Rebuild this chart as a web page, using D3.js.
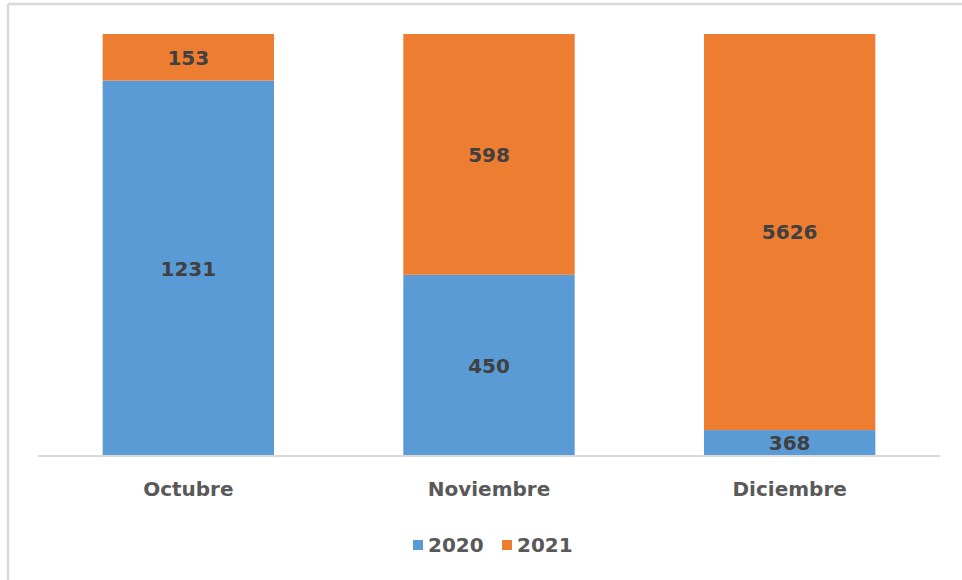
<!DOCTYPE html>
<html>
<head>
<meta charset="utf-8">
<script src="https://cdn.jsdelivr.net/npm/d3@7"></script>
<style>
  html, body { margin: 0; padding: 0; background: #fff; }
  svg { display: block; }
  text { font-family: "DejaVu Sans", "Open Sans", sans-serif; }
</style>
</head>
<body>
<svg id="chart" width="962" height="580"></svg>
<script>
const categories = ["Octubre", "Noviembre", "Diciembre"];
const seriesNames = ["2020", "2021"];
const values2020 = [1231, 450, 368];
const values2021 = [153, 598, 5626];
const colors = ["#5b9bd5", "#ed7d31"];

const svg = d3.select("#chart");
const W = 962, H = 580;

// outer border (top and left only, as in reference)
svg.append("line").attr("x1", 8).attr("x2", W).attr("y1", 4).attr("y2", 4)
  .attr("stroke", "#d9d9d9").attr("stroke-width", 2.5);
svg.append("line").attr("x1", 8).attr("x2", 8).attr("y1", 4).attr("y2", H)
  .attr("stroke", "#d9d9d9").attr("stroke-width", 2.5);

const plot = { left: 38, right: 940, top: 34, bottom: 456 };

const x = d3.scaleBand().domain(categories)
  .range([plot.left, plot.right]).paddingInner(0.43).paddingOuter(0.215);
const y = d3.scaleLinear().domain([0, 1]).range([plot.bottom, plot.top]);

const rows = categories.map((c, i) => ({ cat: c, "2020": values2020[i], "2021": values2021[i] }));
const stack = d3.stack().keys(seriesNames).offset(d3.stackOffsetExpand);
const stacked = stack(rows);

const g = svg.append("g");
stacked.forEach((s, si) => {
  g.selectAll(null).data(s).enter().append("rect")
    .attr("x", d => x(d.data.cat))
    .attr("width", x.bandwidth())
    .attr("y", d => y(d[1]))
    .attr("height", d => y(d[0]) - y(d[1]))
    .attr("fill", colors[si]);
  g.selectAll(null).data(s).enter().append("text")
    .attr("x", d => x(d.data.cat) + x.bandwidth() / 2)
    .attr("y", d => (y(d[0]) + y(d[1])) / 2)
    .attr("dy", "0.36em")
    .attr("text-anchor", "middle")
    .attr("font-size", 20).attr("font-weight", "bold")
    .attr("fill", "#404040")
    .text(d => d.data[seriesNames[si]]);
});

// x axis
const xAxis = svg.append("g").attr("transform", `translate(0,${plot.bottom})`)
  .call(d3.axisBottom(x).tickSize(0).tickPadding(26));
xAxis.select(".domain").attr("stroke", "#d9d9d9").attr("stroke-width", 2)
  .attr("d", `M${plot.left},0H${plot.right}`);
xAxis.selectAll("text").attr("font-size", 20).attr("font-weight", "bold")
  .attr("fill", "#595959").style("font-family", "DejaVu Sans, sans-serif");

// legend
const legendItems = [{ name: "2020", x: 413 }, { name: "2021", x: 502 }];
const lg = svg.append("g");
legendItems.forEach((it, i) => {
  lg.append("rect").attr("x", it.x).attr("y", 540).attr("width", 10).attr("height", 10)
    .attr("fill", colors[i]);
  lg.append("text").attr("x", it.x + 15).attr("y", 545).attr("dy", "0.36em")
    .attr("font-size", 20).attr("font-weight", "bold").attr("fill", "#595959")
    .text(it.name);
});
</script>
</body>
</html>
